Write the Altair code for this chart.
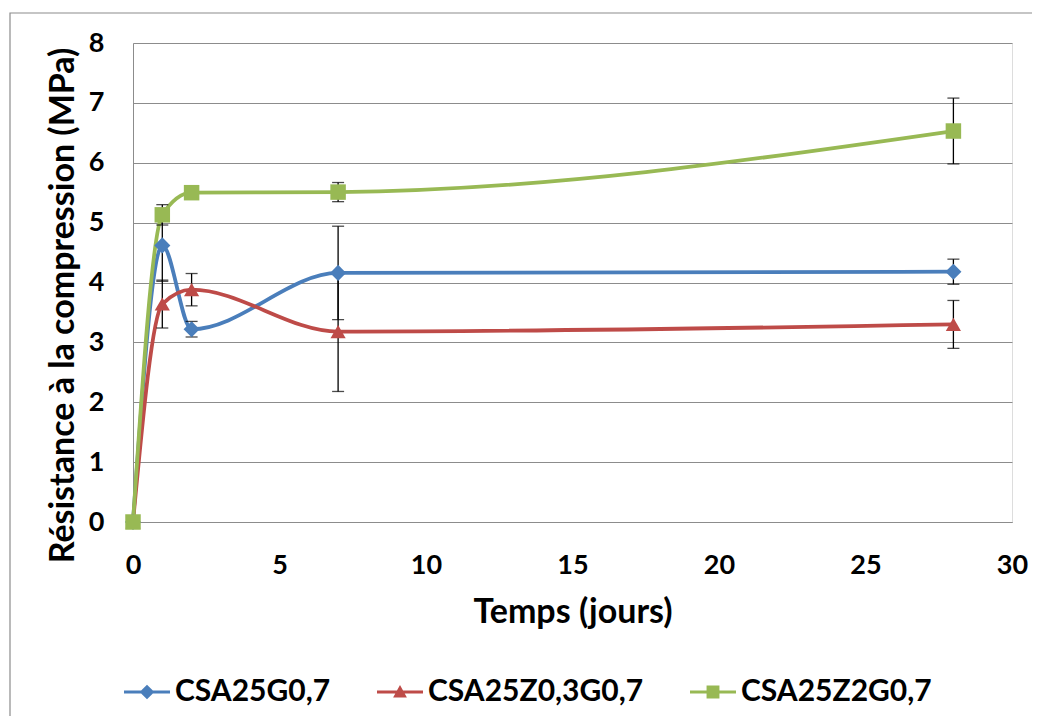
import altair as alt
import pandas as pd

# ---- data ----
days = [0, 1, 2, 7, 28]
series_names = ["CSA25G0,7", "CSA25Z0,3G0,7", "CSA25Z2G0,7"]
blue_vals = [0, 4.62, 3.22, 4.16, 4.18]
red_vals = [0, 3.64, 3.88, 3.18, 3.30]
green_vals = [0, 5.13, 5.50, 5.51, 6.53]
blue_err = [0, 0.60, 0.13, 0.78, 0.21]
red_err = [0, 0.40, 0.27, 1.00, 0.40]
green_err = [0, 0.17, 0.05, 0.16, 0.55]
x_ticks = [0, 5, 10, 15, 20, 25, 30]
y_ticks = [0, 1, 2, 3, 4, 5, 6, 7, 8]

colors = ["#4A7EBB", "#BE4B48", "#98B954"]
shapes = ["diamond", "triangle-up", "square"]
marker_sizes = [260, 230, 240]
# legend symbols: line with marker (custom paths)
bar = "M-1,-0.07L1,-0.07L1,0.07L-1,0.07Z"
legend_paths = [
    bar + "M0,-0.32L0.32,0L0,0.32L-0.32,0Z",
    bar + "M0,-0.3L0.3,0.24L-0.3,0.24Z",
    bar + "M-0.28,-0.28L0.28,-0.28L0.28,0.28L-0.28,0.28Z",
]

FONT = "Lato"
W, H = 879, 479

vals = [blue_vals, red_vals, green_vals]
errs = [blue_err, red_err, green_err]

xenc = alt.X("day:Q", scale=alt.Scale(domain=[0, 30], nice=False),
             axis=alt.Axis(values=x_ticks, format="d", title="Temps (jours)", grid=False,
                           domain=True, domainColor="#8c8c8c", ticks=False, tickSize=0,
                           labelFlush=False,
                           labelPadding=30, labelFontSize=27, labelFont=FONT,
                           labelFontWeight="bold", labelColor="black",
                           titleFont=FONT, titleFontSize=34, titleFontWeight="bold",
                           titleColor="black", titleBaseline="alphabetic",
                           titleX=W / 2, titleY=100, titleAnchor="middle"))
yenc = alt.Y("val:Q", scale=alt.Scale(domain=[0, 8], nice=False),
             axis=alt.Axis(values=y_ticks, format="d", title="Résistance à la compression (MPa)",
                           grid=True, gridColor="#8c8c8c", gridWidth=1,
                           domain=True, domainColor="#8c8c8c", ticks=False, tickSize=0,
                           labelFlush=False,
                           labelPadding=29, labelFontSize=27, labelFont=FONT,
                           labelFontWeight="bold", labelColor="black",
                           titleFont=FONT, titleFontSize=34, titleFontWeight="bold",
                           titleColor="black", titleBaseline="alphabetic",
                           titleAngle=270, titleX=-60, titleY=262, titleAlign="center"))

frames = []
for name, v, e in zip(series_names, vals, errs):
    frames.append(pd.DataFrame({
        "day": days, "val": v,
        "lo": [a - b for a, b in zip(v, e)],
        "hi": [a + b for a, b in zip(v, e)],
        "series": name,
    }))

line_layers, err_layers, cap_layers, pt_layers = [], [], [], []
for i, df in enumerate(frames):
    base = alt.Chart(df)
    line_layers.append(base.mark_line(interpolate="monotone", color=colors[i],
                                      strokeWidth=3.8).encode(x=xenc, y=yenc))
    e_df = df[df["day"] > 0]
    eb = alt.Chart(e_df)
    err_layers.append(eb.mark_rule(color="black", strokeWidth=1.3).encode(
        x="day:Q", y="lo:Q", y2="hi:Q"))
    cap_layers.append(eb.mark_tick(color="black", thickness=1.3, size=12,
                                   orient="horizontal").encode(x="day:Q", y="lo:Q"))
    cap_layers.append(eb.mark_tick(color="black", thickness=1.3, size=12,
                                   orient="horizontal").encode(x="day:Q", y="hi:Q"))
    pt_layers.append(base.mark_point(filled=True, shape=shapes[i], size=marker_sizes[i],
                                     color=colors[i], opacity=1).encode(x="day:Q", y="val:Q"))

leg_df = pd.DataFrame({"day": [0, 0, 0], "val": [0, 0, 0], "legend": series_names})
leg_props = dict(title=None, orient="none", direction="horizontal",
                 legendX=-9, legendY=626, symbolSize=2116, symbolStrokeWidth=0,
                 symbolOpacity=1, labelFont=FONT, labelFontSize=30,
                 labelFontWeight="bold", labelColor="black", labelOffset=5,
                 columnPadding=46, labelLimit=400)
legend_layer = alt.Chart(leg_df).mark_point(filled=True, opacity=0, size=4).encode(
    x="day:Q", y="val:Q",
    color=alt.Color("legend:N", scale=alt.Scale(domain=series_names, range=colors),
                    legend=alt.Legend(**leg_props)),
    shape=alt.Shape("legend:N", scale=alt.Scale(domain=series_names, range=legend_paths),
                    legend=alt.Legend(**leg_props)),
)

border = alt.Chart(pd.DataFrame({"a": [0]})).mark_rect(
    filled=False, stroke="#8c8c8c", strokeWidth=1.2).encode(
    x=alt.value(-123), x2=alt.value(2000), y=alt.value(-30), y2=alt.value(900))

chart = alt.layer(
    border, legend_layer, *line_layers, *err_layers, *cap_layers, *pt_layers
).properties(
    width=W, height=H,
    autosize=alt.AutoSizeParams(type="none"),
    padding={"left": 125, "top": 35, "right": 20, "bottom": 194},
).configure_view(stroke=None).configure(background="white")

chart.save("out.html", embed_options={"renderer": "svg", "actions": False})
